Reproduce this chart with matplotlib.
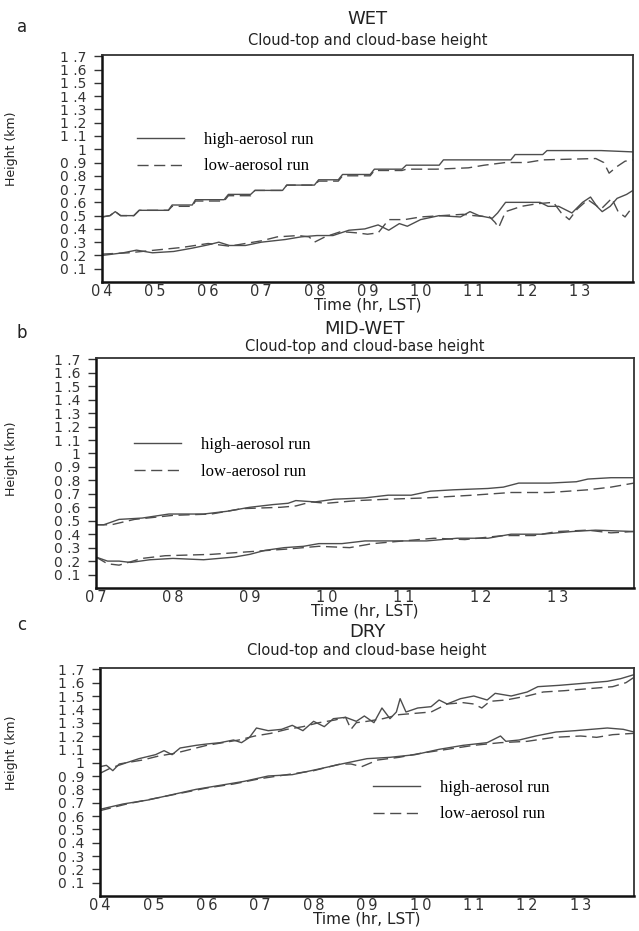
import matplotlib
matplotlib.use("Agg")
import matplotlib.pyplot as plt
from matplotlib.lines import Line2D

# ---- data (time in hours LST, height in km) ----
wet_top_hi_t = [4.0, 4.15, 4.25, 4.35, 4.6, 4.7, 5.25, 5.32, 5.7, 5.76, 6.3, 6.38, 6.8, 6.88,
                7.4, 7.48, 8.0, 8.08, 8.45, 8.53, 9.05, 9.13, 9.65, 9.73, 10.35, 10.43,
                11.7, 11.78, 12.3, 12.38, 13.4, 14.0]
wet_top_hi = [0.49, 0.50, 0.53, 0.50, 0.50, 0.54, 0.54, 0.58, 0.58, 0.62, 0.62, 0.66, 0.66, 0.69,
              0.69, 0.73, 0.73, 0.77, 0.77, 0.81, 0.81, 0.85, 0.85, 0.88, 0.88, 0.92,
              0.92, 0.96, 0.96, 0.99, 0.99, 0.98]
wet_top_lo_t = [4.0, 4.15, 4.25, 4.35, 4.6, 4.7, 5.25, 5.32, 5.7, 5.76, 6.3, 6.38, 6.8, 6.88,
                7.4, 7.48, 8.0, 8.08, 8.45, 8.53, 9.05, 9.13, 9.65, 9.73, 10.3, 10.9, 11.2,
                11.6, 12.0, 12.3, 13.3, 13.45, 13.55, 13.7, 13.85, 14.0]
wet_top_lo = [0.49, 0.50, 0.53, 0.50, 0.50, 0.54, 0.54, 0.57, 0.57, 0.61, 0.61, 0.65, 0.65, 0.69,
              0.69, 0.73, 0.73, 0.76, 0.76, 0.80, 0.80, 0.84, 0.84, 0.85, 0.85, 0.86, 0.88,
              0.90, 0.90, 0.92, 0.93, 0.90, 0.82, 0.87, 0.91, 0.92]
wet_base_hi_t = [4.0, 4.4, 4.65, 4.95, 5.35, 5.7, 6.0, 6.2, 6.4, 6.7, 7.0, 7.45, 7.75, 8.05, 8.35,
                 8.65, 8.95, 9.2, 9.4, 9.6, 9.75, 10.0, 10.35, 10.75, 10.93, 11.1, 11.35, 11.45,
                 11.6, 11.8, 12.25, 12.4, 12.6, 12.85, 13.05, 13.2, 13.32, 13.42, 13.57, 13.7,
                 13.88, 14.0]
wet_base_hi = [0.20, 0.22, 0.24, 0.22, 0.23, 0.255, 0.28, 0.30, 0.275, 0.275, 0.30, 0.32, 0.34,
               0.35, 0.35, 0.39, 0.40, 0.43, 0.39, 0.44, 0.42, 0.47, 0.50, 0.49, 0.53, 0.50,
               0.48, 0.52, 0.60, 0.60, 0.60, 0.57, 0.57, 0.52, 0.60, 0.64, 0.57, 0.53, 0.57,
               0.63, 0.66, 0.69]
wet_base_lo_t = [4.0, 4.5, 5.0, 5.5, 6.0, 6.4, 6.7, 7.0, 7.3, 7.7, 7.9, 8.0, 8.2, 8.5, 8.8, 9.0,
                 9.2, 9.4, 9.7, 10.0, 10.4, 10.8, 11.0, 11.3, 11.4, 11.47, 11.6, 11.9, 12.2,
                 12.5, 12.65, 12.8, 12.95, 13.15, 13.4, 13.6, 13.72, 13.85, 14.0]
wet_base_lo = [0.21, 0.22, 0.24, 0.26, 0.29, 0.27, 0.29, 0.31, 0.34, 0.35, 0.34, 0.30, 0.34,
               0.38, 0.37, 0.36, 0.37, 0.47, 0.47, 0.49, 0.50, 0.51, 0.50, 0.49, 0.45, 0.41,
               0.53, 0.57, 0.59, 0.60, 0.52, 0.47, 0.55, 0.62, 0.55, 0.63, 0.53, 0.49, 0.57]

mid_top_hi_t = [7.0, 7.1, 7.3, 7.6, 7.95, 8.4, 8.7, 9.0, 9.3, 9.5, 9.6, 9.85, 10.1, 10.5, 10.8,
                11.1, 11.35, 11.65, 12.1, 12.3, 12.5, 12.9, 13.25, 13.4, 13.7, 14.0]
mid_top_hi = [0.47, 0.47, 0.51, 0.52, 0.55, 0.55, 0.57, 0.60, 0.62, 0.63, 0.65, 0.64, 0.66,
              0.67, 0.69, 0.69, 0.72, 0.73, 0.74, 0.75, 0.78, 0.78, 0.79, 0.81, 0.82, 0.82]
mid_top_lo_t = [7.0, 7.2, 7.5, 8.0, 8.5, 8.9, 9.4, 9.6, 9.8, 10.0, 10.4, 10.8, 11.3, 11.9, 12.4,
                12.9, 13.4, 13.7, 14.0]
mid_top_lo = [0.47, 0.47, 0.51, 0.54, 0.55, 0.59, 0.60, 0.61, 0.64, 0.63, 0.65, 0.66, 0.67,
              0.69, 0.71, 0.71, 0.73, 0.75, 0.78]
mid_base_hi_t = [7.0, 7.15, 7.3, 7.45, 7.7, 8.0, 8.4, 8.8, 9.0, 9.2, 9.45, 9.7, 9.9, 10.2, 10.5,
                 10.9, 11.3, 11.7, 12.1, 12.4, 12.8, 13.2, 13.5, 14.0]
mid_base_hi = [0.23, 0.20, 0.20, 0.19, 0.21, 0.22, 0.21, 0.23, 0.25, 0.28, 0.30, 0.31, 0.33,
               0.33, 0.35, 0.35, 0.35, 0.37, 0.37, 0.40, 0.40, 0.42, 0.43, 0.42]
mid_base_lo_t = [7.0, 7.15, 7.3, 7.6, 7.9, 8.5, 9.0, 9.5, 9.9, 10.3, 10.6, 11.0, 11.4, 11.8,
                 12.3, 12.7, 13.0, 13.4, 13.7, 14.0]
mid_base_lo = [0.23, 0.18, 0.17, 0.22, 0.24, 0.25, 0.27, 0.29, 0.31, 0.30, 0.33, 0.35, 0.37,
               0.36, 0.39, 0.39, 0.42, 0.43, 0.41, 0.42]

dry_top_hi_t = [4.0, 4.12, 4.24, 4.36, 4.5, 4.73, 5.04, 5.2, 5.35, 5.5, 5.8, 6.0, 6.25, 6.5,
                6.65, 6.8, 6.93, 7.15, 7.4, 7.6, 7.8, 8.0, 8.2, 8.37, 8.6, 8.8, 8.95, 9.13,
                9.28, 9.43, 9.55, 9.62, 9.73, 9.95, 10.2, 10.35, 10.5, 10.75, 11.0, 11.25,
                11.4, 11.7, 12.0, 12.2, 12.6, 12.9, 13.2, 13.5, 13.75, 14.0]
dry_top_hi = [0.97, 0.98, 0.94, 0.99, 1.00, 1.03, 1.06, 1.09, 1.06, 1.11, 1.13, 1.14, 1.15,
              1.17, 1.15, 1.19, 1.26, 1.24, 1.25, 1.28, 1.24, 1.31, 1.27, 1.33, 1.34, 1.31,
              1.35, 1.30, 1.41, 1.33, 1.38, 1.48, 1.38, 1.41, 1.42, 1.47, 1.44, 1.48, 1.50,
              1.47, 1.52, 1.50, 1.53, 1.57, 1.58, 1.59, 1.60, 1.61, 1.63, 1.66]
dry_top_lo_t = [4.0, 4.2, 4.5, 4.8, 5.1, 5.4, 5.7, 6.0, 6.3, 6.6, 6.9, 7.2, 7.5, 7.8, 8.1, 8.4,
                8.6, 8.7, 8.8, 9.0, 9.3, 9.6, 9.9, 10.2, 10.5, 10.8, 11.0, 11.15, 11.3, 11.6,
                12.0, 12.3, 12.7, 13.0, 13.3, 13.6, 13.85, 14.0]
dry_top_lo = [0.92, 0.96, 1.00, 1.02, 1.05, 1.07, 1.10, 1.13, 1.15, 1.17, 1.20, 1.22, 1.25,
              1.27, 1.30, 1.32, 1.34, 1.25, 1.30, 1.31, 1.33, 1.36, 1.37, 1.38, 1.44, 1.45,
              1.44, 1.41, 1.46, 1.47, 1.50, 1.53, 1.54, 1.55, 1.56, 1.57, 1.60, 1.64]
dry_base_hi_t = [4.0, 4.43, 4.9, 5.35, 5.8, 6.25, 6.7, 7.15, 7.6, 8.07, 8.52, 9.0, 9.43, 9.9,
                 10.35, 10.8, 11.25, 11.5, 11.6, 11.85, 12.16, 12.54, 12.9, 13.5, 13.8, 14.0]
dry_base_hi = [0.65, 0.69, 0.72, 0.76, 0.80, 0.83, 0.86, 0.90, 0.91, 0.95, 0.99, 1.03, 1.04,
               1.06, 1.10, 1.13, 1.15, 1.20, 1.16, 1.17, 1.20, 1.23, 1.24, 1.26, 1.25, 1.23]
dry_base_lo_t = [4.0, 4.5, 5.0, 5.5, 6.0, 6.5, 7.0, 7.5, 8.0, 8.5, 8.7, 8.9, 9.2, 9.6, 10.0,
                 10.5, 11.0, 11.5, 12.0, 12.5, 13.0, 13.3, 13.6, 14.0]
dry_base_lo = [0.64, 0.69, 0.73, 0.77, 0.81, 0.84, 0.88, 0.91, 0.94, 0.99, 0.99, 0.97, 1.02,
               1.04, 1.07, 1.10, 1.13, 1.15, 1.16, 1.19, 1.20, 1.19, 1.21, 1.22]

ytick_vals = [0.1, 0.2, 0.3, 0.4, 0.5, 0.6, 0.7, 0.8, 0.9, 1.0, 1.1, 1.2, 1.3, 1.4, 1.5, 1.6, 1.7]
ytick_labels = ["0 .1", "0 .2", "0 .3", "0 .4", "0 .5", "0 .6", "0 .7", "0 .8", "0 .9", "1",
                "1 .1", "1 .2", "1 .3", "1 .4", "1 .5", "1 .6", "1 .7"]
wet_hours = [4, 5, 6, 7, 8, 9, 10, 11, 12, 13]
mid_hours = [7, 8, 9, 10, 11, 12, 13]

W, H = 639, 931
LC = "#4d4d4d"
DASH = (0, (8, 4))

fig = plt.figure(figsize=(W / 100, H / 100), dpi=100)


def px_rect(left, top, right, bottom):
    return [left / W, 1 - bottom / H, (right - left) / W, (bottom - top) / H]


def panel(rect, x0, hours, series, letter, title, ypos, ylab_xy, leg_xy):
    ax = fig.add_axes(px_rect(*rect))
    for t, v, ls in series:
        ax.plot(t, v, color=LC, lw=1.0, ls=ls)
    ax.set_xlim(x0, 14)
    ax.set_ylim(0, 1.71)
    ax.set_yticks(ytick_vals)
    ax.set_yticklabels(ytick_labels, fontsize=10)
    ax.set_xticks(hours)
    ax.set_xticklabels([f"{h:02d}"[0] + "\u2009" + f"{h:02d}"[1] for h in hours], fontsize=10.5)
    ax.tick_params(axis="y", length=6, width=1, pad=5, colors="#333333")
    ax.tick_params(axis="x", length=0, pad=1.5, colors="#333333")
    for s in ("left", "bottom"):
        ax.spines[s].set_linewidth(1.8)
        ax.spines[s].set_color("#111111")
    for s in ("top", "right"):
        ax.spines[s].set_linewidth(1.3)
        ax.spines[s].set_color("#333333")
    ax.set_xlabel("Time (hr, LST)", fontsize=11, labelpad=-1, color="#222222")
    ax.set_ylabel("Height (km)", fontsize=9, color="#222222")
    ax.yaxis.set_label_coords(*ylab_xy)
    handles = [Line2D([], [], color=LC, lw=1.0),
               Line2D([], [], color=LC, lw=1.0, ls=DASH)]
    ax.legend(handles, ["high-aerosol run", "low-aerosol run"], loc="center left",
              bbox_to_anchor=leg_xy, frameon=False, borderpad=0, borderaxespad=0,
              handlelength=2.8, handletextpad=1.2, labelspacing=0.65,
              prop={"family": "Liberation Serif", "size": 12})
    xc = (rect[0] + rect[2]) / 2 / W
    fig.text(xc, 1 - ypos[0] / H, title, ha="center", va="center", fontsize=13,
             color="#222222")
    fig.text(xc, 1 - ypos[1] / H, "Cloud-top and cloud-base height", ha="center",
             va="center", fontsize=10.5, color="#222222")
    fig.text(22 / W, 1 - ypos[2] / H, letter, ha="center", va="center", fontsize=12,
             color="#222222")
    return ax


panel((102, 55, 633, 282), 4, wet_hours,
      [(wet_top_hi_t, wet_top_hi, "-"), (wet_top_lo_t, wet_top_lo, DASH),
       (wet_base_hi_t, wet_base_hi, "-"), (wet_base_lo_t, wet_base_lo, DASH)],
      "a", "WET", (19, 41, 27), (-0.158, 0.586), (0.066, 0.568))

panel((96, 358, 634, 588), 7, mid_hours,
      [(mid_top_hi_t, mid_top_hi, "-"), (mid_top_lo_t, mid_top_lo, DASH),
       (mid_base_hi_t, mid_base_hi, "-"), (mid_base_lo_t, mid_base_lo, DASH)],
      "b", "MID-WET", (329, 347, 333), (-0.145, 0.56), (0.0706, 0.563))

panel((100, 668, 634, 896), 4, wet_hours,
      [(dry_top_hi_t, dry_top_hi, "-"), (dry_top_lo_t, dry_top_lo, DASH),
       (dry_base_hi_t, dry_base_hi, "-"), (dry_base_lo_t, dry_base_lo, DASH)],
      "c", "DRY", (632, 650, 625), (-0.154, 0.627), (0.511, 0.417))

fig.savefig("out.png", dpi=100)
